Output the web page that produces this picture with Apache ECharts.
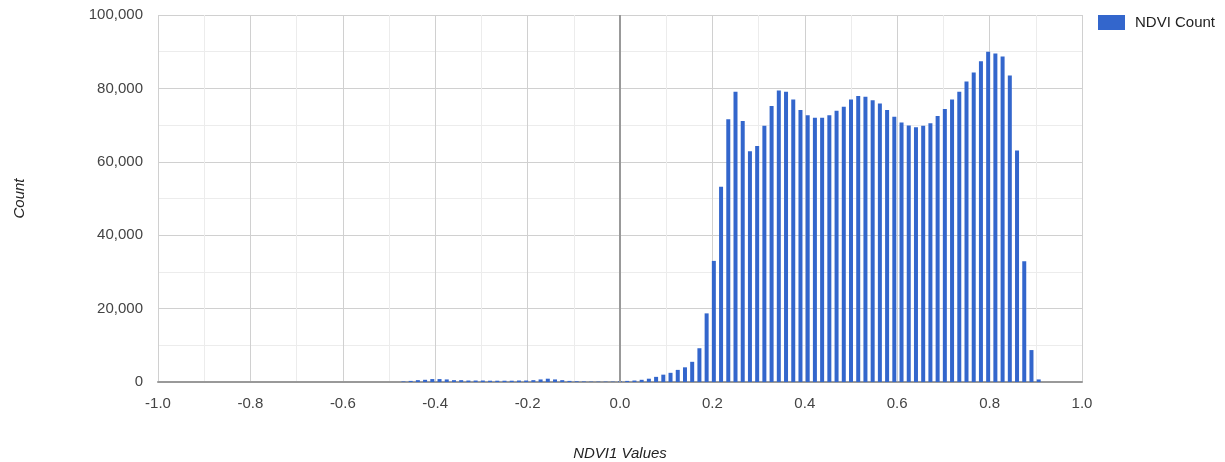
<!DOCTYPE html>
<html>
<head>
<meta charset="utf-8">
<script src="https://cdn.jsdelivr.net/npm/echarts@6/dist/echarts.min.js"></script>
<style>
  html, body { margin: 0; padding: 0; background: #fff; }
  #chart { width: 1225px; height: 462px; }
</style>
</head>
<body>
<div id="chart"></div>
<script>
// NDVI bin positions (bin width 1/64)
const ndviBins = [
  -0.46875, -0.453125, -0.4375, -0.421875, -0.40625, -0.390625, -0.375, -0.359375,
  -0.34375, -0.328125, -0.3125, -0.296875, -0.28125, -0.265625, -0.25, -0.234375,
  -0.21875, -0.203125, -0.1875, -0.171875, -0.15625, -0.140625, -0.125, -0.109375,
  -0.09375, -0.078125, -0.0625, -0.046875, -0.03125, -0.015625, 0,
  0.015625, 0.03125, 0.046875, 0.0625, 0.078125, 0.09375, 0.109375, 0.125,
  0.140625, 0.15625, 0.171875, 0.1875, 0.203125, 0.21875, 0.234375, 0.25,
  0.265625, 0.28125, 0.296875, 0.3125, 0.328125, 0.34375, 0.359375, 0.375,
  0.390625, 0.40625, 0.421875, 0.4375, 0.453125, 0.46875, 0.484375, 0.5,
  0.515625, 0.53125, 0.546875, 0.5625, 0.578125, 0.59375, 0.609375, 0.625,
  0.640625, 0.65625, 0.671875, 0.6875, 0.703125, 0.71875, 0.734375, 0.75,
  0.765625, 0.78125, 0.796875, 0.8125, 0.828125, 0.84375, 0.859375, 0.875,
  0.890625, 0.90625
];
// Pixel counts per bin
const ndviCounts = [
  150, 300, 500, 600, 800, 800, 700, 500,
  500, 400, 400, 400, 350, 350, 350, 350,
  400, 400, 500, 700, 900, 700, 500, 300,
  200, 150, 100, 100, 100, 100, 200,
  300, 400, 600, 900, 1400, 2000, 2500, 3300,
  4000, 5500, 9200, 18700, 33000, 53200, 71600, 79100,
  71100, 62900, 64300, 69800, 75200, 79400, 79100, 77000,
  74100, 72700, 72000, 72000, 72700, 73900, 75000, 77000,
  77900, 77700, 76800, 75900, 74100, 72300, 70700, 69900,
  69400, 69800, 70500, 72500, 74400, 77000, 79100, 81900,
  84300, 87400, 90000, 89500, 88700, 83500, 63100, 32900,
  8700, 700
];
const seriesName = 'NDVI Count';
const xTitle = 'NDVI1 Values';
const yTitle = 'Count';

const chart = echarts.init(document.getElementById('chart'), null, { renderer: 'canvas' });
const fontFamily = '"Liberation Sans", Arial, sans-serif';
const fs = 15;
const data = ndviBins.map((x, i) => [x, ndviCounts[i]]);

chart.setOption({
  animation: false,
  textStyle: { fontFamily: fontFamily },
  grid: { left: 158, right: 143, top: 15, bottom: 80, containLabel: false, outerBoundsMode: 'none' },
  legend: {
    left: 1093, top: 10,
    icon: 'rect', itemWidth: 27, itemHeight: 15, itemGap: 6,
    textStyle: { fontSize: fs, color: '#222', fontFamily: fontFamily, padding: [0, 0, 0, 5] },
    data: [seriesName]
  },
  xAxis: {
    type: 'value', min: -1, max: 1, interval: 0.2,
    name: xTitle, nameLocation: 'middle', nameGap: 64,
    nameTextStyle: { fontSize: fs, fontStyle: 'italic', color: '#222', fontFamily: fontFamily },
    axisLine: { show: true, onZero: false, lineStyle: { color: '#999', width: 2 } },
    axisTick: { show: false },
    axisLabel: { fontSize: fs, color: '#444', margin: 14, formatter: v => v.toFixed(1) },
    splitLine: { show: true, lineStyle: { color: '#d0d0d0', width: 1 } },
    minorTick: { show: false, splitNumber: 2 },
    minorSplitLine: { show: true, lineStyle: { color: '#ececec', width: 1 } }
  },
  yAxis: {
    type: 'value', min: 0, max: 100000, interval: 20000,
    name: yTitle, nameLocation: 'middle', nameGap: 131, nameRotate: 90,
    nameTextStyle: { fontSize: fs, fontStyle: 'italic', color: '#222', fontFamily: fontFamily },
    axisLine: { show: false },
    axisTick: { show: false },
    axisLabel: { fontSize: fs, color: '#444', margin: 15,
      formatter: v => v.toString().replace(/\B(?=(\d{3})+(?!\d))/g, ',') },
    splitLine: { show: true, lineStyle: { color: '#d0d0d0', width: 1 } },
    minorTick: { show: false, splitNumber: 2 },
    minorSplitLine: { show: true, lineStyle: { color: '#ececec', width: 1 } }
  },
  series: [{
    name: seriesName,
    type: 'bar',
    data: data,
    barWidth: 4,
    itemStyle: { color: '#3366cc' },
    markLine: {
      silent: true, symbol: 'none', label: { show: false },
      lineStyle: { color: '#999', width: 2, type: 'solid' },
      data: [{ xAxis: 0 }]
    }
  }]
});
</script>
</body>
</html>
